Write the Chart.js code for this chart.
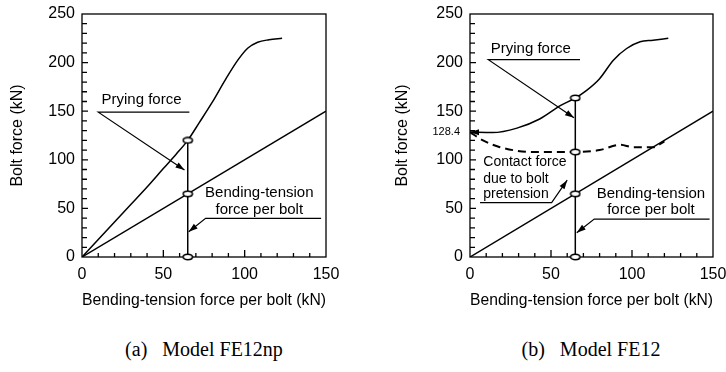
<!DOCTYPE html>
<html>
<head>
<meta charset="utf-8">
<script src="https://cdn.jsdelivr.net/npm/chart.js@4.4.1/dist/chart.umd.min.js"></script>
<style>
  html, body { margin: 0; padding: 0; background: #fff; }
  #wrap { position: relative; width: 726px; height: 372px; overflow: hidden; }
  .panel { position: absolute; top: 0; width: 363px; height: 320px; }
  .cap { position: absolute; top: 337px; width: 240px; text-align: center; white-space: pre;
         font: 20px/24px 'Liberation Serif', 'Times New Roman', serif; color: #000; }
</style>
</head>
<body>
<div id="wrap">
  <div class="panel" style="left:0"><canvas id="fe12np"></canvas></div>
  <div class="panel" style="left:363px"><canvas id="fe12"></canvas></div>
  <div class="cap" style="left:84px">(a)   Model FE12np</div>
  <div class="cap" style="left:471px">(b)   Model FE12</div>
</div>
<script>
// tick labels
const xTicks = [0, 50, 100, 150]
const yTicks = [0, 50, 100, 150, 200, 250]

// bending-tension force per bolt = applied load line (both models)
const appliedX = [0, 150]
const appliedY = [0, 150]

// FE12np - bolt force without pretension
const npBoltX = [0, 10, 20, 30, 40, 50, 58, 65, 72, 80, 88, 96, 102, 108, 115, 123]
const npBoltY = [0, 18, 36, 54, 72, 91, 106, 120, 138, 159, 182, 203, 215, 221, 223.5, 225]

// FE12 - bolt force and plate contact force
const boltX = [0, 14, 29, 43, 56, 65, 72, 80, 88.5, 96.7, 105, 113, 122.4]
const boltY = [128.4, 128, 132.6, 142, 156, 163.6, 171.5, 183.5, 202.5, 214.5, 221.5, 223, 225]
const contactX = [0, 8, 18.5, 39, 65, 80, 92.6, 100.8, 113, 120]
const contactY = [128.4, 120, 113, 108, 108, 110, 115.5, 113, 113, 119]

const stepX = 65
const npMarks = [0, 65, 120]
const marks = [0, 65, 108, 163.6]

Chart.defaults.font.family = "'Liberation Sans', Arial, sans-serif"
Chart.defaults.color = '#000'

const pts = (xs, ys) => xs.map((v, i) => ({ x: v, y: ys[i] }))

// small open ellipse used as point marker
const ring = document.createElement('canvas')
ring.width = 12
ring.height = 8
const rc = ring.getContext('2d')
rc.lineWidth = 1.6
rc.fillStyle = '#fff'
rc.strokeStyle = '#000'
rc.beginPath()
rc.ellipse(6, 4, 4.6, 2.7, 0, 0, Math.PI * 2)
rc.fill()
rc.stroke()

function arrowHead (ctx, x1, y1, x2, y2) {
  const a = Math.atan2(y2 - y1, x2 - x1)
  const len = 9
  const w = 3
  ctx.beginPath()
  ctx.moveTo(x2, y2)
  ctx.lineTo(x2 - len * Math.cos(a) + w * Math.sin(a), y2 - len * Math.sin(a) - w * Math.cos(a))
  ctx.lineTo(x2 - len * Math.cos(a) - w * Math.sin(a), y2 - len * Math.sin(a) + w * Math.cos(a))
  ctx.closePath()
  ctx.fill()
}

// box, inward ticks and leader-line notes
const frame = {
  id: 'frame',
  beforeDatasetsDraw (chart) {
    const { ctx, chartArea: a, scales: { x, y } } = chart
    ctx.save()
    ctx.strokeStyle = '#000'
    ctx.lineWidth = 1.3
    ctx.strokeRect(a.left, a.top, a.right - a.left, a.bottom - a.top)
    ctx.beginPath()
    for (let v = 10; v < 150; v += 10) {
      const px = x.getPixelForValue(v)
      ctx.moveTo(px, a.bottom)
      ctx.lineTo(px, a.bottom - (v % 50 ? 4 : 7))
    }
    for (let v = 10; v < 250; v += 10) {
      const py = y.getPixelForValue(v)
      ctx.moveTo(a.left, py)
      ctx.lineTo(a.left + (v % 50 ? 5 : 6), py)
    }
    ctx.stroke()
    ctx.restore()
  },
  afterDatasetsDraw (chart, args, opts) {
    const { ctx, scales: { x, y } } = chart
    ctx.save()
    ctx.strokeStyle = '#000'
    ctx.fillStyle = '#000'
    ctx.lineWidth = 1.2
    ;(opts.notes || []).forEach(n => {
      if (n.path) {
        const p = n.path.map(q => [x.getPixelForValue(q[0]), y.getPixelForValue(q[1])])
        ctx.beginPath()
        p.forEach((q, i) => i ? ctx.lineTo(q[0], q[1]) : ctx.moveTo(q[0], q[1]))
        ctx.stroke()
        if (n.arrow) {
          const k = p.length - 1
          arrowHead(ctx, p[k - 1][0], p[k - 1][1], p[k][0], p[k][1])
        }
      } else {
        ctx.font = (n.size || 15) + "px 'Liberation Sans', Arial, sans-serif"
        ctx.textAlign = n.align || 'left'
        ctx.textBaseline = 'middle'
        const px = n.px !== undefined ? chart.chartArea.left + n.px : x.getPixelForValue(n.x)
        ctx.fillText(n.text, px, y.getPixelForValue(n.y))
      }
    })
    ctx.restore()
  }
}

function axes (yWidth, titlePad) {
  return {
    x: {
      type: 'linear',
      min: 0,
      max: 150,
      afterBuildTicks: s => { s.ticks = xTicks.map(v => ({ value: v })) },
      afterFit: s => { s.height = 63; s.paddingLeft = 0; s.paddingRight = 0 },
      grid: { display: false, drawTicks: false },
      border: { display: false },
      ticks: { font: { size: 16 }, color: '#000', padding: 8, maxRotation: 0 },
      title: {
        display: true,
        text: 'Bending-tension force per bolt (kN)',
        font: { size: 16 },
        color: '#000',
        padding: { top: 0, bottom: 10 }
      }
    },
    y: {
      type: 'linear',
      min: 0,
      max: 250,
      afterBuildTicks: s => { s.ticks = yTicks.map(v => ({ value: v })) },
      afterFit: s => { s.width = yWidth; s.paddingTop = 0; s.paddingBottom = 0 },
      grid: { display: false, drawTicks: false },
      border: { display: false },
      ticks: { font: { size: 16 }, color: '#000', padding: 7 },
      title: {
        display: true,
        text: 'Bolt force (kN)',
        font: { size: 16 },
        color: '#000',
        padding: { top: titlePad, bottom: 0 }
      }
    }
  }
}

const solid = { borderColor: '#000', borderWidth: 1.5, pointRadius: 0, fill: false }

// (a) Model FE12np
new Chart(document.getElementById('fe12np'), {
  type: 'line',
  data: {
    datasets: [
      { data: pts(npMarks.map(() => stepX), npMarks), showLine: false, pointStyle: ring, pointRadius: 5, clip: false },
      { ...solid, data: pts([stepX, stepX], [0, npMarks[2]]) },
      { ...solid, data: pts(npBoltX, npBoltY), cubicInterpolationMode: 'monotone' },
      { ...solid, data: pts(appliedX, appliedY) }
    ]
  },
  options: {
    responsive: true,
    maintainAspectRatio: false,
    animation: false,
    layout: { padding: { top: 14, right: 37, left: 0, bottom: 0 } },
    scales: axes(82, 8),
    plugins: {
      legend: { display: false },
      tooltip: { enabled: false },
      frame: {
        notes: [
          { text: 'Prying force', x: 12, y: 161.5 },
          { path: [[66, 149], [10, 149], [63, 89.5]], arrow: true },
          { text: 'Bending-tension', x: 109, y: 66, align: 'center' },
          { text: 'force per bolt', x: 109, y: 49, align: 'center' },
          { path: [[147, 39.8], [76, 39.8], [65.6, 26]], arrow: true }
        ]
      }
    }
  },
  plugins: [frame]
})

// (b) Model FE12
new Chart(document.getElementById('fe12'), {
  type: 'line',
  data: {
    datasets: [
      { data: pts(marks.map(() => stepX), marks), showLine: false, pointStyle: ring, pointRadius: 5, clip: false },
      { ...solid, data: pts([stepX, stepX], [0, marks[3]]) },
      { ...solid, data: pts(boltX, boltY), cubicInterpolationMode: 'monotone' },
      { ...solid, borderWidth: 2, borderDash: [8, 5], data: pts(contactX, contactY), cubicInterpolationMode: 'monotone' },
      { ...solid, data: pts(appliedX, appliedY) }
    ]
  },
  options: {
    responsive: true,
    maintainAspectRatio: false,
    animation: false,
    layout: { padding: { top: 14, right: 13, left: 0, bottom: 0 } },
    scales: axes(107, 30),
    plugins: {
      legend: { display: false },
      tooltip: { enabled: false },
      frame: {
        notes: [
          { text: String(boltY[0]), px: -10, y: boltY[0], align: 'right', size: 11 },
          { path: [[4, boltY[0]], [0, boltY[0]]], arrow: true },
          { text: 'Prying force', x: 12.8, y: 214.6 },
          { path: [[67.9, 203], [11.3, 203], [64.2, 143.3]], arrow: true },
          { text: 'Contact force', x: 8.2, y: 97.4, size: 14 },
          { text: 'due to bolt', x: 8.2, y: 80.3, size: 14 },
          { text: 'pretension', x: 8.2, y: 64.8, size: 14 },
          { path: [[6.2, 56], [50.4, 56], [60, 79]], arrow: true },
          { text: 'Bending-tension', x: 111.7, y: 65, align: 'center' },
          { text: 'force per bolt', x: 111.7, y: 48.5, align: 'center' },
          { path: [[147.9, 39], [76.7, 39], [65.9, 25]], arrow: true }
        ]
      }
    }
  },
  plugins: [frame]
})
</script>
</body>
</html>
